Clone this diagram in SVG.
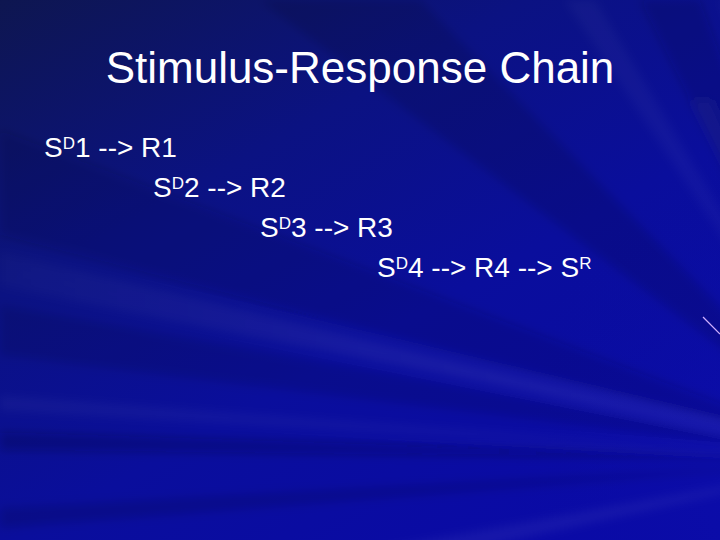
<svg xmlns="http://www.w3.org/2000/svg" width="720" height="540" viewBox="0 0 720 540">
<defs>
<linearGradient id="bg" x1="0" y1="0" x2="0.75" y2="1">
<stop offset="0" stop-color="#0e1650"/>
<stop offset="0.35" stop-color="#0b1282"/>
<stop offset="0.65" stop-color="#0a0e9c"/>
<stop offset="1" stop-color="#0a0aa6"/>
</linearGradient>
<radialGradient id="glow" cx="870" cy="460" r="600" gradientUnits="userSpaceOnUse">
<stop offset="0" stop-color="#1418c0" stop-opacity="0.35"/>
<stop offset="0.6" stop-color="#0a10a0" stop-opacity="0"/>
</radialGradient>
<linearGradient id="fadeL" x1="0" y1="0" x2="1" y2="0">
<stop offset="0" stop-color="#ffffff" stop-opacity="0.02"/>
<stop offset="1" stop-color="#ffffff" stop-opacity="0.1"/>
</linearGradient>
<filter id="soft" x="-10%" y="-10%" width="120%" height="120%">
<feGaussianBlur stdDeviation="5"/>
</filter>
</defs>
<style>
.t{font-family:"Liberation Sans",Arial,sans-serif;fill:#ffffff}
.title{font-size:44px}
.body{font-size:28px}
.sup{font-size:17px}
.lt{fill:#ffffff}
.dk{fill:#000020}
</style>
<g id="background">
<rect width="720" height="540" fill="url(#bg)"/>
<rect width="720" height="540" fill="url(#glow)"/>
<g filter="url(#soft)">
<polygon class="dk" opacity="0.14" points="870,460 0,130 0,235"/>
<polygon fill="url(#fadeL)" points="870,460 0,252 0,286"/>
<polygon class="lt" opacity="0.035" points="870,460 0,396 0,410"/>
<polygon class="dk" opacity="0.2" points="870,460 0,432 0,450"/>
<polygon class="dk" opacity="0.12" points="870,460 0,508 0,528"/>
<polygon class="lt" opacity="0.05" points="870,460 0,618 0,655"/>
<polygon class="dk" opacity="0.12" points="870,460 260,0 420,0"/>
<polygon class="lt" opacity="0.03" points="870,460 565,0 595,0"/>
<polygon class="dk" opacity="0.15" points="870,460 640,0 700,0"/>
<polygon class="lt" opacity="0.035" points="870,460 720,0 750,0"/>
<polygon class="dk" opacity="0.1" points="870,460 0,305 0,355"/>
<polygon class="lt" opacity="0.04" points="870,460 690,100 712,100"/>
</g>
<line x1="703" y1="317" x2="720" y2="334" stroke="#d0b0ff" stroke-width="1.2"/>
</g>
<g id="title">
<text class="t title" x="360" y="83" text-anchor="middle">Stimulus-Response Chain</text>
</g>
<g id="line1">
<text class="t body" x="44" y="157">S<tspan class="sup" dy="-8">D</tspan><tspan dy="8">1 --&gt; R1</tspan></text>
</g>
<g id="line2">
<text class="t body" x="153" y="197">S<tspan class="sup" dy="-8">D</tspan><tspan dy="8">2 --&gt; R2</tspan></text>
</g>
<g id="line3">
<text class="t body" x="260" y="237">S<tspan class="sup" dy="-8">D</tspan><tspan dy="8">3 --&gt; R3</tspan></text>
</g>
<g id="line4">
<text class="t body" x="377" y="277">S<tspan class="sup" dy="-8">D</tspan><tspan dy="8">4 --&gt; R4 --&gt; S</tspan><tspan class="sup" dy="-8">R</tspan></text>
</g>
</svg>
